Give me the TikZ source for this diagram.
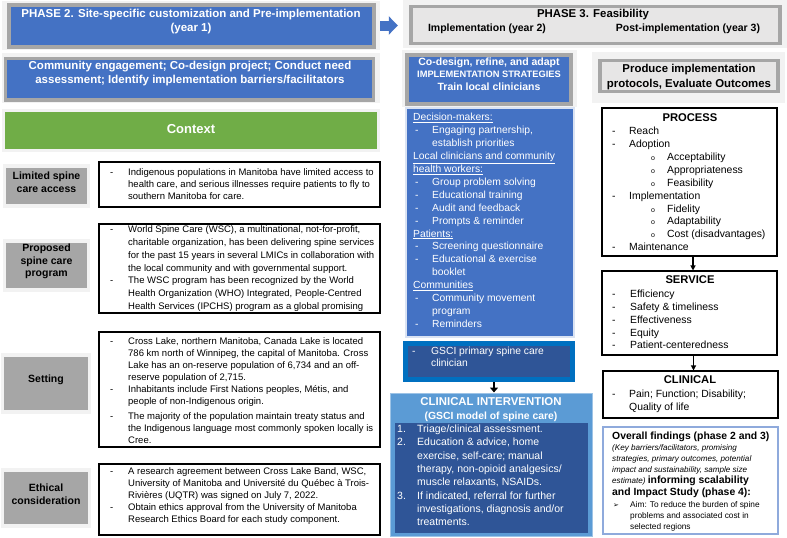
\documentclass[tikz,border=0pt]{standalone}
\usepackage{fontspec}
\setmainfont{Liberation Sans}
\newfontfamily\dejavu{DejaVu Sans}
\usetikzlibrary{arrows.meta,fit}
\definecolor{blueA}{HTML}{4472C4}
\definecolor{grayB}{HTML}{A6A6A6}
\definecolor{haloC}{HTML}{F2F2F2}
\definecolor{greenC}{HTML}{70AD47}
\definecolor{lightG}{HTML}{E7E6E6}
\definecolor{clinOut}{HTML}{5B9BD5}
\definecolor{darkB}{HTML}{2F5597}
\definecolor{gsciOut}{HTML}{0070C0}
\definecolor{findB}{HTML}{8FAADC}
\newcommand{\myL}[1]{\begin{tabular}[t]{@{}l@{}}#1\end{tabular}}
\newcommand{\myC}[1]{\begin{tabular}[t]{@{}c@{}}#1\end{tabular}}
\newcommand{\dB}[1]{\makebox[#1][l]{-}}
\newcommand{\sK}[1]{\hspace*{#1}}
\newcommand{\oB}{\hspace*{39pt}\makebox[16pt][l]{\fontsize{7}{7}\selectfont o}}
\tikzset{
  haloS/.style={fill=haloC, draw=none, inner sep=0pt},
  hdrS/.style={fill=blueA, draw=grayB, line width=4pt, inner sep=0pt},
  labS/.style={fill=grayB, draw=none, inner sep=0pt, align=center, font=\fontsize{10.5}{12.5}\selectfont\bfseries},
  txtB/.style={draw=black, line width=1.1pt, fill=white, inner sep=0pt},
  bodyS/.style={inner sep=0pt, anchor=mid west, font=\fontsize{9.5}{12}\selectfont},
  wS/.style={inner sep=0pt, text=white},
  bS/.style={inner sep=0pt, anchor=mid, font=\fontsize{11.2}{13}\selectfont\bfseries},
  arrK/.style={draw=black, line width=1.2pt, -{Triangle[length=5pt,width=5pt]}},
  arrBig/.style={draw=black, line width=2pt, -{Triangle[length=5pt,width=8pt]}},
}
\begin{document}
\begin{tikzpicture}[x=1pt,y=-1pt]
\useasboundingbox (0,0) rectangle (787,538);
% ---------- Phase 2 header ----------
\node[haloS, fit={(2,1)(380,50)}] (p2h) {};
\node[hdrS, fit={(8.5,5)(374,47)}] (p2) {};
\node[wS, anchor=mid, font=\fontsize{11.5}{14}\selectfont\bfseries] (p2t) at (191,15) {\myC{PHASE 2. Site-specific customization and Pre-implementation\\(year 1)}};
% ---------- Phase 3 header ----------
\node[haloS, fit={(403,0)(787,48)}] (p3h) {};
\node[fill=lightG, draw=grayB, line width=3.5pt, inner sep=0pt, fit={(411,6.5)(780,43.5)}] (p3) {};
\node[bS, font=\fontsize{11.4}{13}\selectfont\bfseries] (p3t) at (593,14.5) {PHASE 3. Feasibility};
\node[bS, font=\fontsize{10.5}{13}\selectfont\bfseries] (p3a) at (487,29) {Implementation (year 2)};
\node[bS, font=\fontsize{10.5}{13}\selectfont\bfseries] (p3b) at (688,29) {Post-implementation (year 3)};
\draw[blueA, line width=10pt, shorten >=5pt, -{Triangle[length=9pt,width=18pt]}] (p2h.east) -- (p2h.east -| p3h.west);
% ---------- Community engagement ----------
\node[haloS, fit={(2,53)(380,103)}] (ceh) {};
\node[hdrS, line width=3.5pt, fit={(5.5,58.5)(373.5,100)}] (ce) {};
\node[wS, anchor=mid, font=\fontsize{11.5}{14.3}\selectfont\bfseries] (cet) at (190,67) {\myC{Community engagement; Co-design project; Conduct need\\assessment; Identify implementation barriers/facilitators}};
% ---------- Context ----------
\node[haloS, fit={(2,109)(380,152)}] (ctxh) {};
\node[fill=greenC, inner sep=0pt, fit={(5,112)(377,149)}] (ctx) {};
\node[wS, font=\fontsize{13}{15}\selectfont\bfseries] (ctxt) at (191,129) {Context};
% ---------- Left labels ----------
\node[haloS, fit={(3,164)(90,208)}] (limH) {};
\node[labS, fit={(6,168)(87,204)}] (limL) {Limited spine\\care access};
\node[haloS, fit={(3,239)(90,292)}] (propH) {};
\node[labS, fit={(6,243)(87,288)}] (propL) {Proposed\\spine care\\program};
\node[haloS, fit={(1,353)(91,414)}] (setH) {};
\node[labS, fit={(4,357)(88,410)}] (setL) {Setting};
\node[haloS, fit={(1,468)(91,528)}] (ethH) {};
\node[labS, fit={(4,472)(88,524)}] (ethL) {Ethical\\consideration};
% ---------- Left text boxes ----------
\node[txtB, fit={(99,162)(380,207)}] (limB) {};
\node[bodyS] (limT) at (110,173) {\myL{\dB{18pt}Indigenous populations in Manitoba have limited access to\\\sK{18pt}health care, and serious illnesses require patients to fly to\\\sK{18pt}southern Manitoba for care.}};
\node[txtB, fit={(99,224)(380,313)}] (propB) {};
\node[bodyS, font=\fontsize{9.5}{12.8}\selectfont] (propT) at (110,230) {\myL{\dB{18pt}World Spine Care (WSC), a multinational, not-for-profit,\\\sK{18pt}charitable organization, has been delivering spine services\\\sK{18pt}for the past 15 years in several LMICs in collaboration with\\\sK{18pt}the local community and with governmental support.\\\dB{18pt}The WSC program has been recognized by the World\\\sK{18pt}Health Organization (WHO) Integrated, People-Centred\\\sK{18pt}Health Services (IPCHS) program as a global promising}};
\node[txtB, fit={(99,332)(380,447)}] (setB) {};
\node[bodyS] (setT) at (110,342) {\myL{\dB{18pt}Cross Lake, northern Manitoba, Canada Lake is located\\\sK{18pt}786 km north of Winnipeg, the capital of Manitoba. Cross\\\sK{18pt}Lake has an on-reserve population of 6,734 and an off-\\\sK{18pt}reserve population of 2,715.\\\dB{18pt}Inhabitants include First Nations peoples, Métis, and\\\sK{18pt}people of non-Indigenous origin.\\[3pt]\dB{18pt}The majority of the population maintain treaty status and\\\sK{18pt}the Indigenous language most commonly spoken locally is\\\sK{18pt}Cree.}};
\node[txtB, fit={(99,464)(380,535)}] (ethB) {};
\node[bodyS] (ethT) at (110,472) {\myL{\dB{18pt}A research agreement between Cross Lake Band, WSC,\\\sK{18pt}University of Manitoba and Université du Québec à Trois-\\\sK{18pt}Rivières (UQTR) was signed on July 7, 2022.\\\dB{18pt}Obtain ethics approval from the University of Manitoba\\\sK{18pt}Research Ethics Board for each study component.}};
% ---------- Middle column ----------
\node[haloS, fit={(402,50)(577,107)}] (cdh) {};
\node[hdrS, fit={(407,54.5)(570.5,103.5)}] (cd) {};
\node[wS, anchor=mid, font=\fontsize{10.5}{12}\selectfont\bfseries] (cdt) at (489,63) {\myC{Co-design, refine, and adapt\\{\fontsize{9.3}{12}\selectfont IMPLEMENTATION STRATEGIES}\\[1pt]Train local clinicians}};
\node[fill=blueA, draw=white!80!blueA, line width=1.5pt, inner sep=0pt, fit={(406,108)(574,337)}] (strat) {};
\node[wS, anchor=mid west, font=\fontsize{10.3}{12.9}\selectfont] (stratT) at (413,118) {\myL{\underline{Decision-makers:}\\
\sK{2pt}\dB{17pt}Engaging partnership,\\
\sK{19pt}establish priorities\\
\underline{Local clinicians and community}\\
\underline{health workers:}\\
\sK{2pt}\dB{17pt}Group problem solving\\
\sK{2pt}\dB{17pt}Educational training\\
\sK{2pt}\dB{17pt}Audit and feedback\\
\sK{2pt}\dB{17pt}Prompts \& reminder\\
\underline{Patients:}\\
\sK{2pt}\dB{17pt}Screening questionnaire\\
\sK{2pt}\dB{17pt}Educational \& exercise\\
\sK{19pt}booklet\\
\underline{Communities}\\
\sK{2pt}\dB{17pt}Community movement\\
\sK{19pt}program\\
\sK{2pt}\dB{17pt}Reminders}};
\node[fill=darkB, draw=gsciOut, line width=5pt, inner sep=0pt, fit={(405.5,343.5)(572.5,379.5)}] (gsci) {};
\node[wS, anchor=mid west, font=\fontsize{10.3}{12.3}\selectfont] (gsciT) at (412,352) {\myL{\dB{19pt}GSCI primary spine care\\\sK{19pt}clinician}};
\node[fill=clinOut, draw=clinOut!60!white, line width=1pt, inner sep=0pt, fit={(390,393)(592,536)}] (clin) {};
\node[fill=darkB, inner sep=0pt, fit={(395,423)(588,533)}] (clinIn) {};
\node[wS, anchor=mid, font=\fontsize{11.4}{14}\selectfont\bfseries] (clinT) at (491,403) {\myC{CLINICAL INTERVENTION\\{\fontsize{10.4}{14}\selectfont (GSCI model of spine care)}}};
\node[wS, anchor=mid west, font=\fontsize{10.5}{13.3}\selectfont] (clinI) at (397,430) {\myL{\makebox[20pt][l]{1.}Triage/clinical assessment.\\
\makebox[20pt][l]{2.}Education \& advice, home\\
\sK{20pt}exercise, self-care; manual\\
\sK{20pt}therapy, non-opioid analgesics/\\
\sK{20pt}muscle relaxants, NSAIDs.\\
\makebox[20pt][l]{3.}If indicated, referral for further\\
\sK{20pt}investigations, diagnosis and/or\\
\sK{20pt}treatments.}};
\draw[arrBig] ([xshift=5pt]gsci.south) -- ([xshift=5pt]gsci.south |- clin.north);
% ---------- Right column ----------
\node[haloS, fit={(592,52)(785,103)}] (prodh) {};
\node[fill=lightG, draw=grayB, line width=3.5pt, inner sep=0pt, fit={(600,60.5)(778,91.5)}] (prod) {};
\node[bS, font=\fontsize{11.4}{15}\selectfont\bfseries] (prodT) at (689,70) {\myC{Produce implementation\\protocols, Evaluate Outcomes}};
\node[txtB, fit={(602,108)(777,256)}] (proc) {};
\node[bS] (procT) at (690,119) {PROCESS};
\node[inner sep=0pt, anchor=mid west, font=\fontsize{10.4}{12.9}\selectfont] (procI) at (612,132) {\myL{\dB{17pt}Reach\\\dB{17pt}Adoption\\\oB Acceptability\\\oB Appropriateness\\\oB Feasibility\\\dB{17pt}Implementation\\\oB Fidelity\\\oB Adaptability\\\oB Cost (disadvantages)\\\dB{17pt}Maintenance}};
\node[txtB, fit={(602,271)(777,355)}] (serv) {};
\node[bS] (servT) at (690,281) {SERVICE};
\node[inner sep=0pt, anchor=mid west, font=\fontsize{10.4}{12.8}\selectfont] (servI) at (612,295) {\myL{\dB{18pt}Efficiency\\\dB{18pt}Safety \& timeliness\\\dB{18pt}Effectiveness\\\dB{18pt}Equity\\\dB{18pt}Patient-centeredness}};
\node[txtB, fit={(603,371)(778,418)}] (clinR) {};
\node[bS] (clinRT) at (690,381) {CLINICAL};
\node[inner sep=0pt, anchor=mid west, font=\fontsize{10.4}{13}\selectfont] (clinRI) at (612,395) {\myL{\dB{17pt}Pain; Function; Disability;\\\sK{17pt}Quality of life}};
\draw[arrK] ([xshift=3.5pt]proc.south) -- ([xshift=3.5pt]proc.south |- serv.north);
\draw[arrK] ([xshift=4pt]serv.south) -- ([xshift=4pt]serv.south |- clinR.north);
\node[draw=findB, line width=1.5pt, fill=white, inner sep=0pt, fit={(603,427)(778,534)}] (over) {};
\node[inner sep=0pt, anchor=mid west, font=\fontsize{10.4}{12}\selectfont\bfseries] (overA) at (612,437) {Overall findings (phase 2 and 3)};
\node[inner sep=0pt, anchor=mid west, font=\fontsize{8.1}{11}\selectfont\itshape] (overB) at (612,448) {\myL{(Key barriers/facilitators, promising\\strategies, primary outcomes, potential\\impact and sustainability, sample size\\estimate) {\upshape\bfseries\fontsize{10.4}{11}\selectfont informing scalability}}};
\node[inner sep=0pt, anchor=mid west, font=\fontsize{10.4}{12}\selectfont\bfseries] (overC) at (612,493) {and Impact Study (phase 4):};
\node[inner sep=0pt, anchor=mid west, font=\fontsize{8.3}{11}\selectfont] (overD) at (613,505) {\myL{\makebox[17pt][l]{\dejavu\fontsize{7}{7}\selectfont ➢}Aim: To reduce the burden of spine\\\sK{17pt}problems and associated cost in\\\sK{17pt}selected regions}};
\end{tikzpicture}
\end{document}
